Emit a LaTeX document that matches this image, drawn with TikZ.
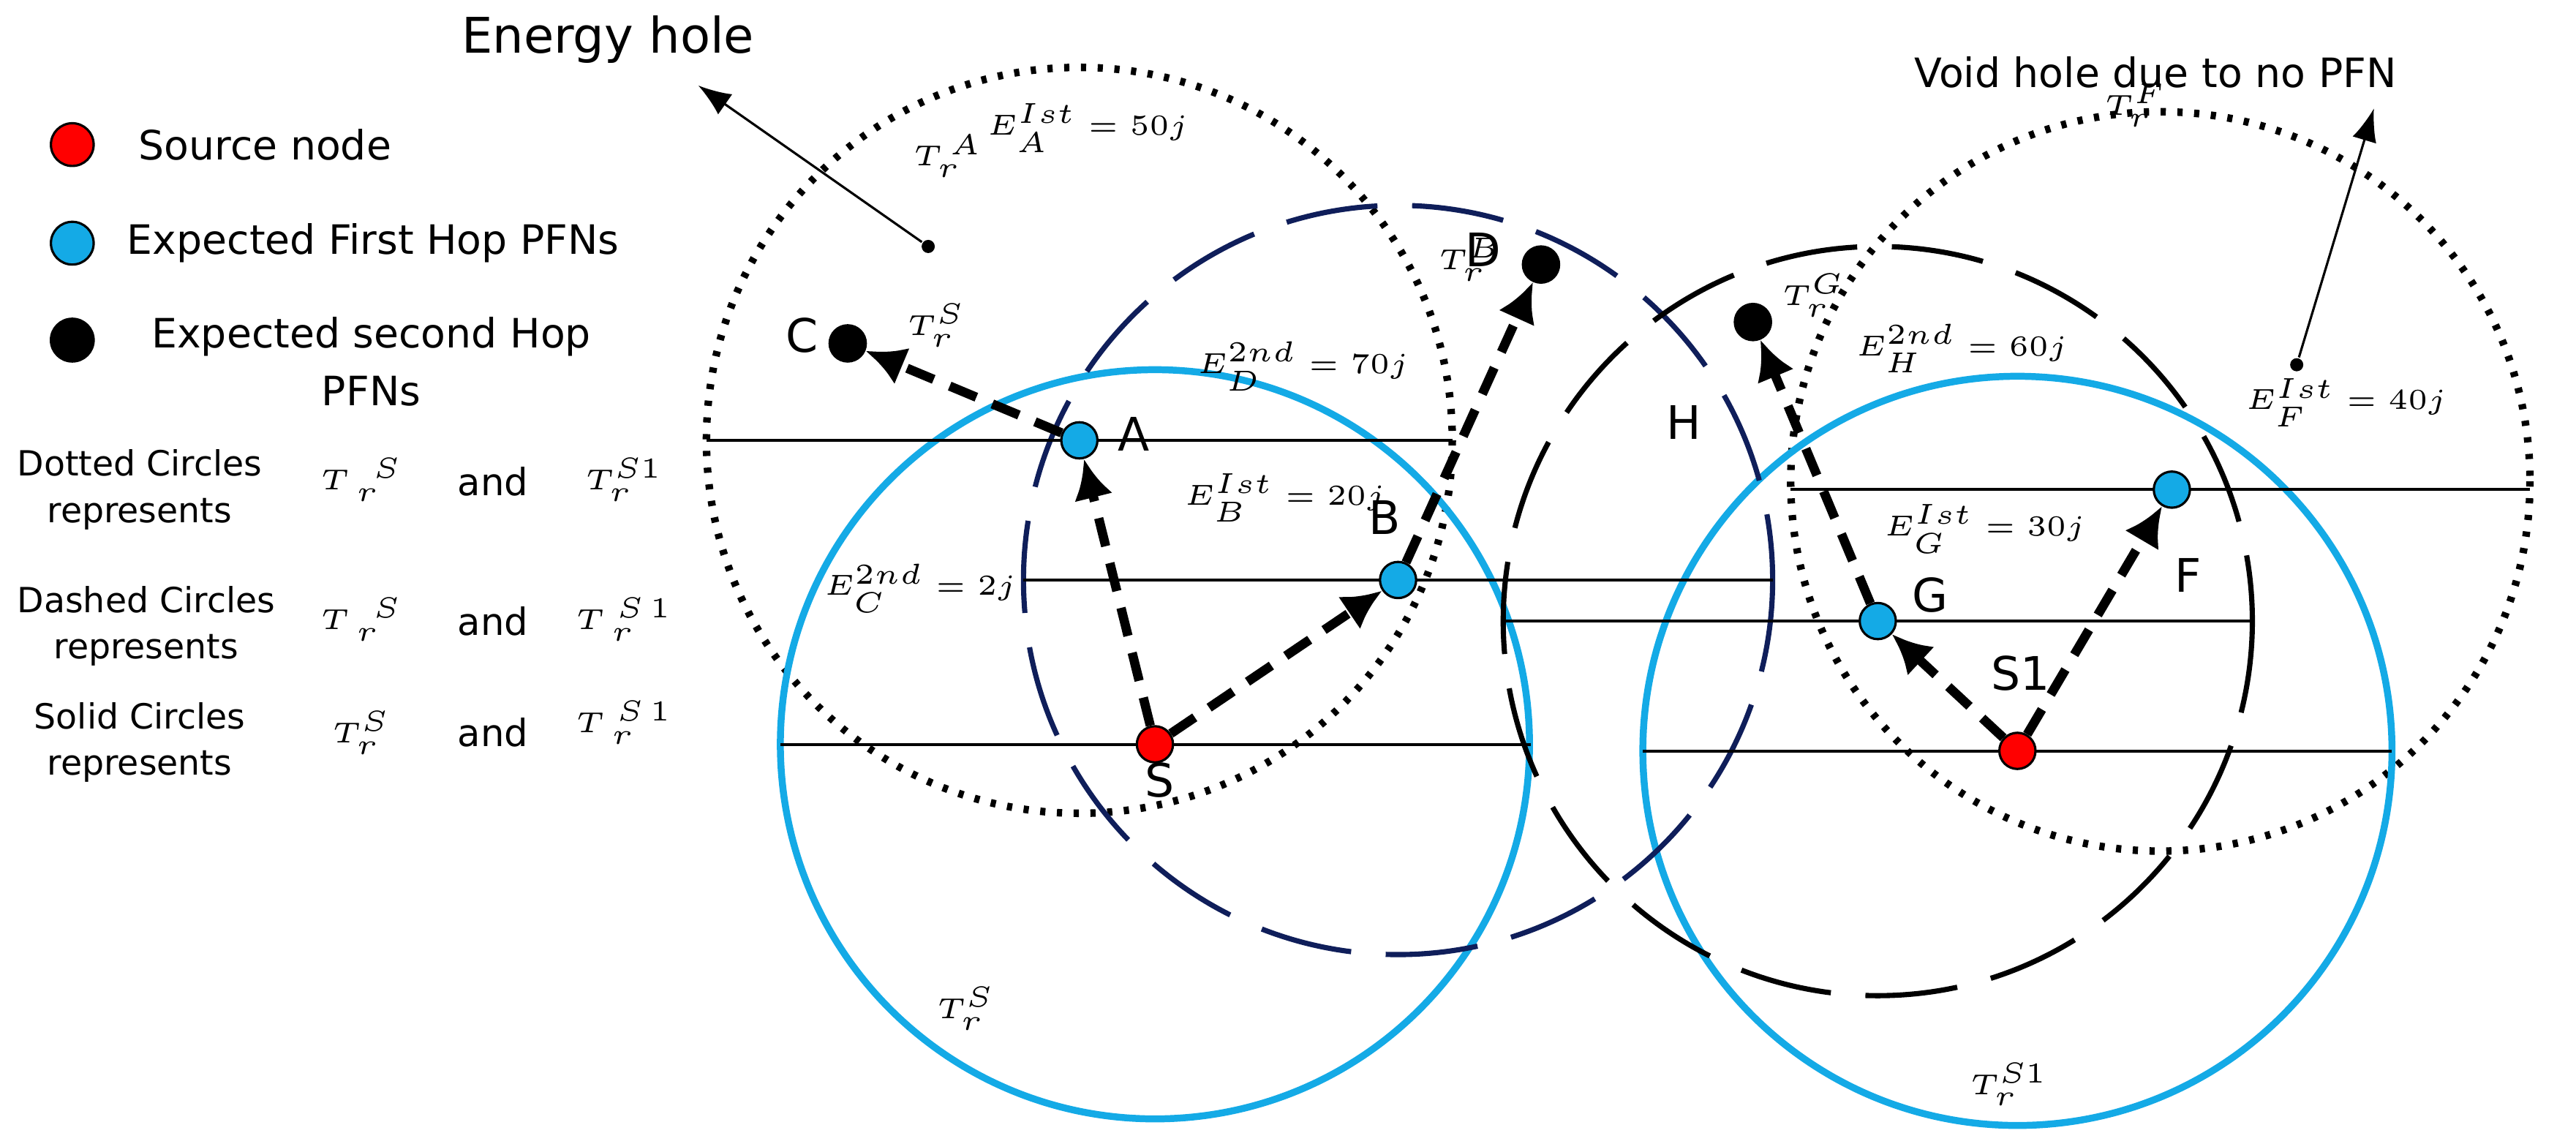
\documentclass[tikz,border=0pt]{standalone}
\usepackage{fontspec}
\setmainfont{DejaVu Sans}
\usetikzlibrary{arrows.meta}
\definecolor{skyb}{RGB}{20,170,230}
\definecolor{navyc}{RGB}{15,30,90}
\tikzset{
  pfn/.style={circle,draw=black,inner sep=0pt,minimum size=0.22cm},
  hop/.style={-{Latex[length=2.4mm,width=2.4mm]},line width=1.6pt,dash pattern=on 5pt off 3pt},
  rcirc/.style={line width=0.9pt},
  diam/.style={line width=0.5pt},
  lbl/.style={font=\fontsize{6.5}{8}\selectfont},
  big/.style={font=\fontsize{8}{9}\selectfont},
  mth/.style={font=\fontsize{5.5}{7}\selectfont},
}
\begin{document}
\begin{tikzpicture}[x=0.01cm,y=-0.01cm]
\useasboundingbox (0,0) rectangle (1568,696);
%% range circles
\draw [rcirc,dotted,line width=1.3pt] (657,268) circle (227);
\draw [rcirc,dotted,line width=1.3pt] (1315,293) circle (225);
\draw [rcirc,skyb,line width=1.2pt] (703,453) circle (228);
\draw [rcirc,skyb,line width=1.2pt] (1228,457) circle (228);
\draw [rcirc,navyc,dash pattern=on 16pt off 6pt] (851,353) circle (228);
\draw [rcirc,black,dash pattern=on 16pt off 6pt] (1143,378) circle (228);
%% diameters
\draw [diam] (430,268) -- (884,268);
\draw [diam] (475,453) -- (932,453);
\draw [diam] (623,353) -- (1079,353);
\draw [diam] (915,378) -- (1370,378);
\draw [diam] (1000,457) -- (1456,457);
\draw [diam] (1090,298) -- (1540,298);
%% nodes
\node (S) at (703,453) [pfn,fill=red] {};
\node (A) at (657,268) [pfn,fill=skyb] {};
\node (B) at (851,353) [pfn,fill=skyb] {};
\node (C) at (516,209) [pfn,fill=black] {};
\node (D) at (938,161) [pfn,fill=black] {};
\node (G) at (1143,378) [pfn,fill=skyb] {};
\node (S1) at (1228,457) [pfn,fill=red] {};
\node (F) at (1322,298) [pfn,fill=skyb] {};
\node (Hn) at (1067,196) [pfn,fill=black] {};
\node (eh) at (565,150) [circle,fill=black,inner sep=0pt,minimum size=0.08cm] {};
\node (vh) at (1398,222) [circle,fill=black,inner sep=0pt,minimum size=0.08cm] {};
\coordinate (eh_end) at (425,52);
\coordinate (vh_end) at (1445,66);
%% hops
\draw [hop] (S) -- (A);
\draw [hop] (S) -- (B);
\draw [hop] (A) -- (C);
\draw [hop] (B) -- (D);
\draw [hop] (S1) -- (G);
\draw [hop] (S1) -- (F);
\draw [hop] (G) -- (Hn);
\draw [-{Latex[length=2mm]},thin] (eh) -- (eh_end);
\draw [-{Latex[length=2mm]},thin] (vh) -- (vh_end);
%% node labels
\node at (488,204) [big] {C};
\node at (690,264) [big] {A};
\node at (843,315) [big] {B};
\node at (903,152) [big] {D};
\node at (706,475) [big] {S};
\node at (1025,257) [big] {H};
\node at (1175,362) [big] {G};
\node at (1230,410) [big] {S1};
\node at (1332,350) [big] {F};
\node at (370,24) [font=\fontsize{8.5}{10}\selectfont] {Energy hole};
\node at (1312,44) [lbl,font=\fontsize{7}{8}\selectfont] {Void hole due to no PFN};
%% math labels
\node at (577,95) [mth] {$T_r^{\,A}$};
\node at (662,78) [mth] {$E_A^{Ist}=50j$};
\node at (570,198) [mth] {$T_r^{S}$};
\node at (793,223) [mth] {$E_D^{2nd}=70j$};
\node at (895,158) [mth] {$T_r^{B}$};
\node at (782,303) [mth] {$E_B^{Ist}=20j$};
\node at (560,358) [mth] {$E_C^{2nd}=2j$};
\node at (1104,180) [mth,font=\fontsize{4}{5}\selectfont] {$T_r^{G}$};
\node at (1194,212) [mth,font=\fontsize{5}{6}\selectfont] {$E_H^{2nd}=60j$};
\node at (1300,64) [mth] {$T_r^{F}$};
\node at (1428,245) [mth] {$E_F^{Ist}=40j$};
\node at (1208,322) [mth] {$E_G^{Ist}=30j$};
\node at (588,614) [mth] {$T_r^{S}$};
\node at (1223,660) [mth] {$T_r^{S1}$};
%% legend
\node (leg1) at (44,88) [pfn,fill=red,minimum size=0.26cm] {};
\node (leg2) at (44,148) [pfn,fill=skyb,minimum size=0.26cm] {};
\node (leg3) at (44,207) [pfn,fill=black,minimum size=0.26cm] {};
\node at (72,88) [lbl,anchor=west,font=\fontsize{7}{8}\selectfont] {Source node};
\node at (65,148) [lbl,anchor=west,font=\fontsize{7}{8}\selectfont] {Expected First Hop PFNs};
\node at (226,220) [lbl,font=\fontsize{7}{10}\selectfont,align=center] {Expected second Hop\\PFNs};
\node at (85,298) [lbl,align=center,font=\fontsize{6}{8}\selectfont] {Dotted Circles\\represents};
\node at (89,381) [lbl,align=center,font=\fontsize{6}{8}\selectfont] {Dashed Circles\\represents};
\node at (85,452) [lbl,align=center,font=\fontsize{6}{8}\selectfont] {Solid Circles\\represents};
\node at (220,292) [mth] {$T_{\;r}^{\;\;S}$};
\node at (220,377) [mth] {$T_{\;r}^{\;\;S}$};
\node at (220,446) [mth] {$T_r^{S}$};
\node at (300,293) [lbl] {and};
\node at (300,378) [lbl] {and};
\node at (300,446) [lbl] {and};
\node at (380,292) [mth] {$T_r^{S1}$};
\node at (380,377) [mth] {$T_{\;r}^{\;S\,1}$};
\node at (380,440) [mth] {$T_{\;r}^{\;S\,1}$};
\end{tikzpicture}
\end{document}
